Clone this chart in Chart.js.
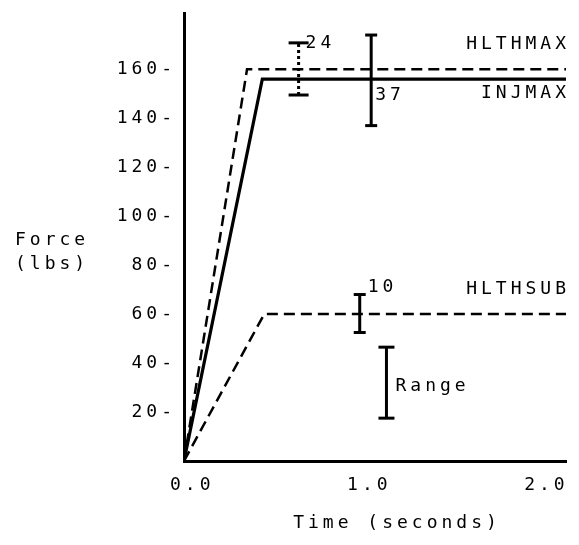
<!DOCTYPE html>
<html>
<head>
<meta charset="utf-8">
<script src="https://cdn.jsdelivr.net/npm/chart.js@4/dist/chart.umd.min.js"></script>
<style>
  body { margin: 0; background: #fff; }
  #wrap { width: 579px; height: 545px; }
</style>
</head>
<body>
<div id="wrap"><canvas id="force"></canvas></div>
<script>
// Force vs time curves (typed-style plot)

const xTickVals = [0, 1, 2];
const yTickVals = [20, 40, 60, 80, 100, 120, 140, 160];

const hlthmaxTime = [0, 0.33, 2.0];
const hlthmaxForce = [0, 160, 160];
const injmaxTime = [0, 0.41, 2.0];
const injmaxForce = [0, 156, 156];
const hlthsubTime = [0, 0.42, 2.0];
const hlthsubForce = [0, 60, 60];

// error bars
const barNames = ['24', '37', '10', 'Range'];
const barTime = [0.60, 0.98, 0.92, 1.06];
const barLow = [149.5, 137, 52.5, 17.5];
const barHigh = [170.8, 174, 68, 46.5];

const FONT = '"DejaVu Sans Mono", monospace';
const SIZE = 18;
const SPACING = '4px';

// styling of the bars, kept apart from the values
const capSize = [10, 6, 6, 8];
const barDotted = [true, false, false, false];

function pts(xs, ys) {
  return xs.map((x, i) => ({ x: x, y: ys[i] }));
}

const datasets = [
  {
    label: 'HLTHMAX',
    data: pts(hlthmaxTime, hlthmaxForce),
    borderColor: '#000',
    borderWidth: 2.5,
    borderDash: [11, 6],
    pointRadius: 0
  },
  {
    label: 'INJMAX',
    data: pts(injmaxTime, injmaxForce),
    borderColor: '#000',
    borderWidth: 3.2,
    pointRadius: 0
  },
  {
    label: 'HLTHSUB',
    data: pts(hlthsubTime, hlthsubForce),
    borderColor: '#000',
    borderWidth: 2.5,
    borderDash: [11, 6],
    pointRadius: 0
  }
];

for (let i = 0; i < barNames.length; i++) {
  datasets.push({
    label: barNames[i],
    data: [{ x: barTime[i], y: barLow[i] }, { x: barTime[i], y: barHigh[i] }],
    borderColor: '#000',
    borderWidth: 3,
    borderDash: barDotted[i] ? [3, 3] : [],
    pointStyle: 'line',
    pointRadius: capSize[i],
    pointBorderWidth: 3,
    pointBorderColor: '#000'
  });
}

// typewriter look: wide letter spacing on everything drawn
const spacingPlugin = {
  id: 'spacing',
  beforeLayout(chart) { chart.ctx.letterSpacing = SPACING; },
  beforeDraw(chart) { chart.ctx.letterSpacing = SPACING; }
};

const notesPlugin = {
  id: 'notes',
  afterDraw(chart) {
    const ctx = chart.ctx;
    const xs = chart.scales.x;
    const ys = chart.scales.y;
    ctx.save();
    ctx.letterSpacing = SPACING;
    ctx.font = SIZE + 'px ' + FONT;
    ctx.fillStyle = '#000';
    ctx.textBaseline = 'middle';

    // series names at right edge
    const right = xs.getPixelForValue(2.0) + 4;
    ctx.textAlign = 'right';
    ctx.fillText('HLTHMAX', right, ys.getPixelForValue(hlthmaxForce[2]) - 25);
    ctx.fillText('INJMAX', right, ys.getPixelForValue(injmaxForce[2]) + 14);
    ctx.fillText('HLTHSUB', right, ys.getPixelForValue(hlthsubForce[2]) - 25);

    // bar notes
    ctx.textAlign = 'left';
    ctx.fillText(barNames[0], xs.getPixelForValue(barTime[0]) + 7, ys.getPixelForValue(barHigh[0]));
    ctx.fillText(barNames[1], xs.getPixelForValue(barTime[1]) + 4, ys.getPixelForValue(injmaxForce[2]) + 16);
    ctx.fillText(barNames[2], xs.getPixelForValue(barTime[2]) + 8, ys.getPixelForValue(barHigh[2]) - 7);
    ctx.fillText(barNames[3], xs.getPixelForValue(barTime[3]) + 9,
      (ys.getPixelForValue(barHigh[3]) + ys.getPixelForValue(barLow[3])) / 2 + 4);

    // axis titles
    ctx.fillText('Force', 15, 240);
    ctx.fillText('(lbs)', 15, 264);
    ctx.textAlign = 'center';
    ctx.fillText('Time (seconds)', 397, 523);
    ctx.restore();
  }
};

new Chart(document.getElementById('force'), {
  type: 'line',
  data: { datasets: datasets },
  plugins: [spacingPlugin, notesPlugin],
  options: {
    responsive: true,
    maintainAspectRatio: false,
    animation: false,
    layout: { padding: { top: 9, right: 11, left: 0, bottom: 0 } },
    plugins: {
      legend: { display: false },
      tooltip: { enabled: false }
    },
    scales: {
      x: {
        type: 'linear',
        min: 0,
        max: 2,
        display: false
      },
      // labels were typed slightly off the data scale
      x2: {
        type: 'linear',
        position: 'bottom',
        min: -0.0468,
        max: 2.1107,
        afterBuildTicks(scale) { scale.ticks = xTickVals.map(v => ({ value: v })); },
        afterFit(scale) {
          scale.height = 84;
          scale.paddingLeft = 0;
          scale.paddingRight = 0;
        },
        grid: { display: false, drawTicks: false },
        border: { display: true, color: '#000', width: 3 },
        ticks: {
          color: '#000',
          padding: 14,
          maxRotation: 0,
          font: { family: FONT, size: SIZE },
          callback: v => v.toFixed(1)
        }
      },
      y: {
        type: 'linear',
        min: 0,
        max: 183,
        afterBuildTicks(scale) { scale.ticks = yTickVals.map(v => ({ value: v })); },
        afterFit(scale) {
          scale.width = 184;
          scale.paddingTop = 0;
          scale.paddingBottom = 0;
        },
        grid: { display: false, drawTicks: false },
        border: { display: true, color: '#000', width: 3 },
        ticks: {
          color: '#000',
          padding: 8,
          font: { family: FONT, size: SIZE },
          callback: v => v + '-'
        }
      }
    }
  }
});
</script>
</body>
</html>
